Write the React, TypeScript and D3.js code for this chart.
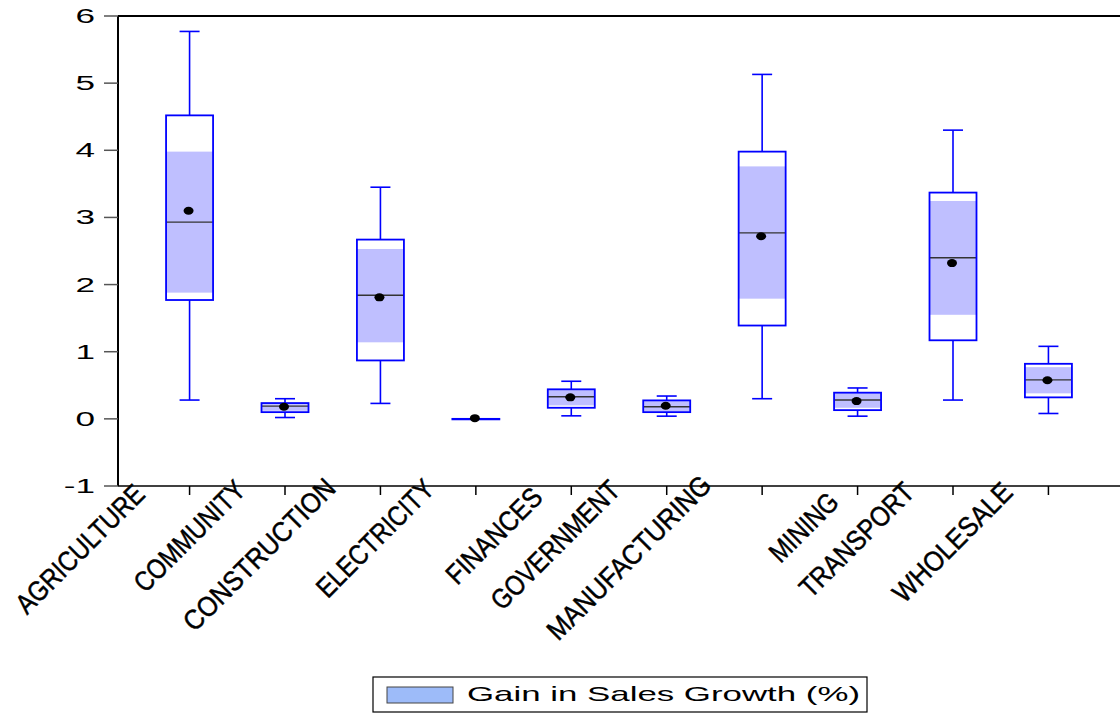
import React from "react";
import * as d3 from "d3";

const categories = [
  "AGRICULTURE", "COMMUNITY", "CONSTRUCTION", "ELECTRICITY", "FINANCES",
  "GOVERNMENT", "MANUFACTURING", "MINING", "TRANSPORT", "WHOLESALE",
];
const whiskerLow = [0.28, 0.02, 0.23, 0.0, 0.045, 0.04, 0.3, 0.04, 0.28, 0.08];
const q1 = [1.77, 0.1, 0.87, 0.0, 0.165, 0.1, 1.39, 0.13, 1.17, 0.32];
const shadeLow = [1.88, 0.12, 1.14, 0.0, 0.2, 0.11, 1.79, 0.165, 1.55, 0.38];
const median = [2.93, 0.19, 1.84, 0.0, 0.33, 0.18, 2.77, 0.28, 2.4, 0.58];
const mean = [3.1, 0.18, 1.81, 0.01, 0.32, 0.195, 2.72, 0.265, 2.32, 0.575];
const shadeHigh = [3.98, 0.22, 2.53, 0.0, 0.44, 0.27, 3.76, 0.39, 3.245, 0.77];
const q3 = [4.52, 0.235, 2.67, 0.0, 0.44, 0.275, 3.98, 0.39, 3.37, 0.82];
const whiskerHigh = [5.77, 0.3, 3.45, 0.0, 0.56, 0.34, 5.13, 0.46, 4.3, 1.08];
const yTicks = [-1, 0, 1, 2, 3, 4, 5, 6];
const legendLabel = "Gain in Sales Growth (%)";

// layout (not data): label end offsets relative to tick, and label lengths
const labelDx = [-43, -38, -43, -40, -27, -45, -49, -17, -37, -34];
const labelDy = [10, 6, 4, 5, 13, 6, 1, 18, 8, 8];
const labelLen = [169, 144, 202, 153, 123, 169, 219, 85, 149, 156];

const W = 1120, H = 714;
const left = 118, right = 1120, top = 16, bottom = 486;

export default function App() {
  const y = d3.scaleLinear().domain([-1, 6]).range([bottom, top]);
  const x = d3.scalePoint<string>().domain(categories).range([left, right]).padding(0.75);
  const boxW = 47, capW = 20;
  const blue = "#0000FF";

  return (
    <svg width={W} height={H} style={{ position: "absolute", left: 0, top: 0, background: "#fff" }}
      fontFamily="'Liberation Sans', Arial, sans-serif">
      <rect x={0} y={0} width={W} height={H} fill="#fff" />
      {categories.map((c, i) => {
        const cx = x(c)!;
        return (
          <g key={c}>
            <line x1={cx} x2={cx} y1={y(whiskerHigh[i])} y2={y(q3[i])} stroke={blue} strokeWidth={1.6} />
            <line x1={cx} x2={cx} y1={y(q1[i])} y2={y(whiskerLow[i])} stroke={blue} strokeWidth={1.6} />
            <line x1={cx - capW / 2} x2={cx + capW / 2} y1={y(whiskerHigh[i])} y2={y(whiskerHigh[i])} stroke={blue} strokeWidth={1.6} />
            <line x1={cx - capW / 2} x2={cx + capW / 2} y1={y(whiskerLow[i])} y2={y(whiskerLow[i])} stroke={blue} strokeWidth={1.6} />
            <rect x={cx - boxW / 2} width={boxW} y={y(q3[i])} height={y(q1[i]) - y(q3[i])} fill="#fff" />
            <rect x={cx - boxW / 2} width={boxW} y={y(shadeHigh[i])} height={y(shadeLow[i]) - y(shadeHigh[i])} fill="#BFBFFF" />
            <line x1={cx - boxW / 2} x2={cx + boxW / 2} y1={y(median[i])} y2={y(median[i])} stroke="#333" strokeWidth={1.4} />
            <rect x={cx - boxW / 2} width={boxW} y={y(q3[i])} height={Math.max(0.5, y(q1[i]) - y(q3[i]))} fill="none" stroke={blue} strokeWidth={1.8} />
            <ellipse cx={cx - 1} cy={y(mean[i])} rx={5} ry={4} fill="#000" />
          </g>
        );
      })}
      <line x1={left} x2={right} y1={top} y2={top} stroke="#000" strokeWidth={2} />
      <line x1={left} x2={left} y1={top} y2={bottom} stroke="#000" strokeWidth={2} />
      <line x1={left} x2={right} y1={bottom} y2={bottom} stroke="#000" strokeWidth={1.5} />
      {yTicks.map((t) => (
        <g key={t}>
          <line x1={104} x2={left} y1={y(t)} y2={y(t)} stroke="#555" strokeWidth={1.5} />
          <text transform={`translate(95,${y(t)}) scale(1.8,1)`} textAnchor="end" dy="0.36em" fontSize={19.5} fill="#000">
            {t}
          </text>
        </g>
      ))}
      {categories.map((c, i) => {
        const cx = x(c)!;
        const ex = cx + labelDx[i];
        const ey = bottom + labelDy[i];
        return (
          <g key={c}>
            <line x1={cx} x2={cx} y1={bottom} y2={bottom + 9} stroke="#000" strokeWidth={1.5} />
            <text transform={`translate(${ex},${ey}) rotate(-45)`} textAnchor="end" fontSize={28}
              textLength={labelLen[i]} lengthAdjust="spacingAndGlyphs" fill="#000" stroke="#000" strokeWidth={0.5}>
              {c}
            </text>
          </g>
        );
      })}
      <rect x={373} y={677} width={494} height={35} fill="#fff" stroke="#000" strokeWidth={1.2} />
      <rect x={387} y={687} width={66} height={16} fill="#9DBBF9" stroke="#444" strokeWidth={1} />
      <text x={467} y={701} fontSize={21} textLength={393} lengthAdjust="spacingAndGlyphs" fill="#000">
        {legendLabel}
      </text>
    </svg>
  );
}
